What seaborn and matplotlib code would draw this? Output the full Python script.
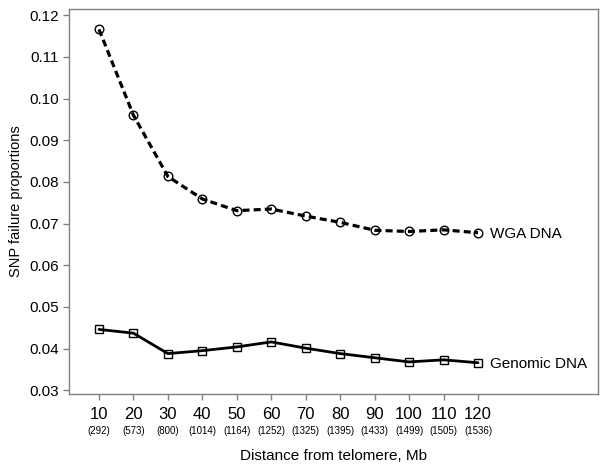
import numpy as np
import pandas as pd
import matplotlib
matplotlib.use("Agg")
import matplotlib.pyplot as plt
import seaborn as sns

# distance from telomere (Mb) and number of SNPs per bin
distance = [10, 20, 30, 40, 50, 60, 70, 80, 90, 100, 110, 120]
n_snps = [292, 573, 800, 1014, 1164, 1252, 1325, 1395, 1433, 1499, 1505, 1536]

wga_fail = [0.1166, 0.0960, 0.0813, 0.0759, 0.0731, 0.0735, 0.0718, 0.0703,
            0.0684, 0.0681, 0.0685, 0.0678]
genomic_fail = [0.0446, 0.0437, 0.0388, 0.0395, 0.0404, 0.0416, 0.0401, 0.0388,
                0.0378, 0.0368, 0.0373, 0.0366]

sns.set_style("ticks")
plt.rcParams['font.family'] = ['Liberation Sans', 'DejaVu Sans']
plt.rcParams['text.color'] = 'black'
plt.rcParams['axes.labelcolor'] = 'black'

df = pd.DataFrame({"distance": distance, "wga": wga_fail, "genomic": genomic_fail})

fig = plt.figure(figsize=(6.07, 4.66), dpi=100)
ax = fig.add_axes([0.1137, 0.1545, 0.8713, 0.8262])

sns.lineplot(data=df, x="distance", y="wga", ax=ax, color="black", lw=2.3,
             linestyle=(0, (2.2, 1.3)), marker="o", markersize=6.2,
             markerfacecolor="none", markeredgecolor="black", markeredgewidth=1.0)
sns.lineplot(data=df, x="distance", y="genomic", ax=ax, color="black", lw=2.0,
             marker="s", markersize=6.2, markerfacecolor="none",
             markeredgecolor="black", markeredgewidth=1.0)

ax.set_xlim(1.3, 154.8)
ax.set_ylim(0.0291, 0.1215)
ax.set_yticks(np.arange(0.03, 0.1201, 0.01))
ax.set_yticklabels([f"{v:.2f}" for v in np.arange(0.03, 0.1201, 0.01)], fontsize=11)
ax.set_xticks(distance)
ax.set_xticklabels([str(d) for d in distance], fontsize=12)

# SNP counts under each tick label
for d, n in zip(distance, n_snps):
    ax.text(d, -0.083, f"({n})", transform=ax.get_xaxis_transform(),
            ha="center", va="top", fontsize=7)

ax.text(123.5, wga_fail[-1] - 0.0003, "WGA DNA", fontsize=11, va="center")
ax.text(123.5, genomic_fail[-1] - 0.0003, "Genomic DNA", fontsize=11, va="center")

for s in ax.spines.values():
    s.set_color("#808080")
    s.set_linewidth(1.0)
ax.tick_params(colors="#808080", labelcolor="black", length=4, width=1)
ax.tick_params(axis="x", pad=5)

ax.set_xlabel("Distance from telomere, Mb", fontsize=11, labelpad=20)
ax.set_ylabel("SNP failure proportions", fontsize=10.5, labelpad=4)

fig.savefig("out.png", dpi=100)
